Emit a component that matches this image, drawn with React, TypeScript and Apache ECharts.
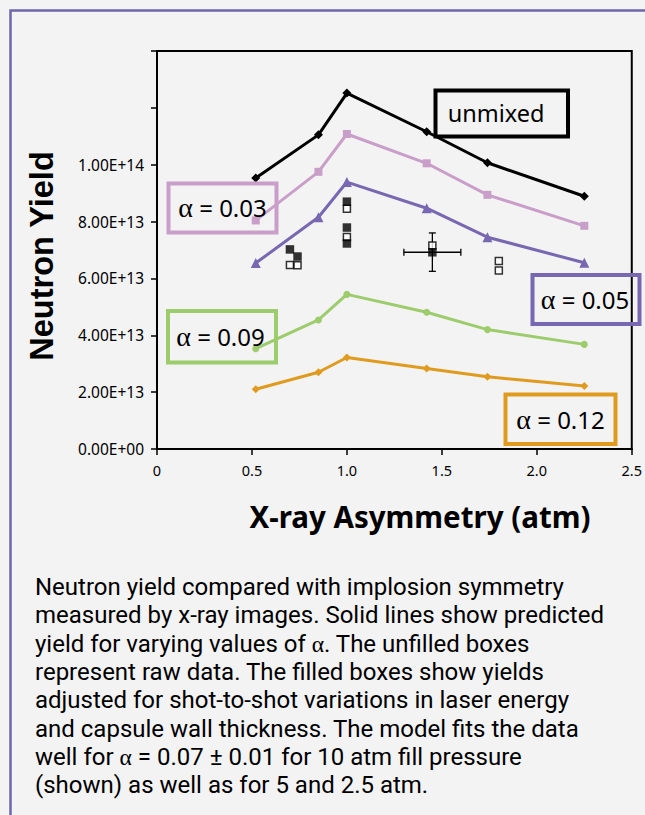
import React, { useEffect, useRef } from 'react';
import * as echarts from 'echarts';

// ---------- data ----------
const xValues = [0.52, 0.85, 1.0, 1.42, 1.74, 2.25];
const unmixed = [9.53e13, 1.105e14, 1.252e14, 1.116e14, 1.007e14, 8.89e13];
const alpha003 = [8.04e13, 9.75e13, 1.108e14, 1.005e14, 8.94e13, 7.85e13];
const alpha005 = [6.54e13, 8.15e13, 9.39e13, 8.47e13, 7.45e13, 6.55e13];
const alpha009 = [3.53e13, 4.54e13, 5.44e13, 4.81e13, 4.2e13, 3.68e13];
const alpha012 = [2.1e13, 2.7e13, 3.22e13, 2.83e13, 2.54e13, 2.22e13];

const filledX = [0.7, 0.74, 1.0, 1.0, 1.0, 1.45];
const filledY = [7.02e13, 6.77e13, 8.7e13, 7.79e13, 7.23e13, 6.92e13];
const openX = [0.7, 0.74, 1.0, 1.0, 1.45, 1.8, 1.8];
const openY = [6.47e13, 6.46e13, 8.45e13, 7.46e13, 7.16e13, 6.61e13, 6.28e13];

const errCenterX = [1.45];
const errCenterY = [6.92e13];
const errXLow = [1.3];
const errXHigh = [1.6];
const errYLow = [6.25e13];
const errYHigh = [7.6e13];

const yTickLabels = ['0.00E+00', '2.00E+13', '4.00E+13', '6.00E+13', '8.00E+13', '1.00E+14', '', ''];
const xTickLabels = ['0', '0.5', '1.0', '1.5', '2.0', '2.5'];

const seriesNames = ['unmixed', 'α = 0.03', 'α = 0.05', 'α = 0.09', 'α = 0.12'];

const captionLines = [
  'Neutron yield compared with implosion symmetry',
  'measured by x-ray images. Solid lines show predicted',
  'yield for varying values of α. The unfilled boxes',
  'represent raw data. The filled boxes show yields',
  'adjusted for shot-to-shot variations in laser energy',
  'and capsule wall thickness. The model fits the data',
  'well for α = 0.07 ± 0.01 for 10 atm fill pressure',
  '(shown) as well as for 5 and 2.5 atm.',
];

// ---------- style ----------
const SANS = '"Noto Sans", "Open Sans", sans-serif';
const CAPTION = 'Roboto, "Noto Sans", sans-serif';
const SERIF = '"Liberation Serif", "DejaVu Serif", serif';
const BLACK = '#000000';
const PINK = '#c99ec9';
const PURPLE = '#7867b1';
const GREEN = '#9ccc6b';
const ORANGE = '#e09b1f';
const FRAME = '#6c66aa';

const pairs = (xs: number[], ys: number[]) => xs.map((x, i) => [x, ys[i]]);
const richify = (s: string) => s.replace(/α/g, '{g|α}');

function lineSeries(name: string, ys: number[], color: string, symbol: string, size: number) {
  return {
    name,
    type: 'line',
    data: pairs(xValues, ys),
    symbol,
    symbolSize: size,
    showSymbol: true,
    lineStyle: { color, width: 3 },
    itemStyle: { color, borderWidth: 0 },
    z: 3,
  };
}

function labelBox(text: string, color: string, rx: number, ry: number, rw: number, rh: number, tx: number, ty: number, fs: number) {
  return {
    type: 'group',
    children: [
      {
        type: 'rect',
        shape: { x: rx, y: ry, width: rw, height: rh },
        style: { fill: 'none', stroke: color, lineWidth: 4 },
        z: 10,
      },
      {
        type: 'text',
        x: tx,
        y: ty,
        style: {
          text: richify(text),
          fill: '#000',
          fontFamily: SANS,
          fontSize: fs,
          lineHeight: 30,
          align: 'center',
          verticalAlign: 'middle',
          rich: { g: { fontFamily: SERIF, fontSize: fs + 4, lineHeight: 30, fill: '#000' } },
        },
        z: 10,
      },
    ],
  };
}

export default function App() {
  const ref = useRef<HTMLDivElement>(null);

  useEffect(() => {
    if (!ref.current) return;
    const chart = echarts.init(ref.current, null, { renderer: 'svg' });

    const errData = errCenterX.map((x, i) => [x, errCenterY[i], errXLow[i], errXHigh[i], errYLow[i], errYHigh[i]]);

    const option: any = {
      animation: false,
      backgroundColor: '#f3f3f4',
      grid: {
        left: 157,
        right: 10,
        top: 51,
        bottom: 366,
        show: true,
        borderColor: '#000',
        borderWidth: 2,
        backgroundColor: 'transparent',
      },
      xAxis: {
        type: 'value',
        min: 0,
        max: 2.5,
        interval: 0.5,
        axisLine: { show: true, onZero: false, lineStyle: { color: '#000', width: 2 } },
        axisTick: { show: true, length: 6, lineStyle: { color: '#000', width: 1.5 } },
        axisLabel: {
          color: '#000',
          fontFamily: SANS,
          fontSize: 14.5,
          margin: 13,
          formatter: (v: number) => xTickLabels[Math.round(v / 0.5)] ?? '',
        },
        splitLine: { show: false },
      },
      yAxis: {
        type: 'value',
        min: 0,
        max: 1.4e14,
        interval: 2e13,
        axisLine: { show: true, onZero: false, lineStyle: { color: '#000', width: 2 } },
        axisTick: { show: true, length: 6, lineStyle: { color: '#000', width: 1.5 } },
        axisLabel: {
          color: '#000',
          fontFamily: SANS,
          fontSize: 15.5,
          margin: 13,
          formatter: (v: number) => yTickLabels[Math.round(v / 2e13)] ?? '',
        },
        splitLine: { show: false },
      },
      series: [
        lineSeries(seriesNames[0], unmixed, BLACK, 'diamond', 9),
        lineSeries(seriesNames[1], alpha003, PINK, 'rect', 8),
        lineSeries(seriesNames[2], alpha005, PURPLE, 'triangle', 10),
        lineSeries(seriesNames[3], alpha009, GREEN, 'circle', 7),
        lineSeries(seriesNames[4], alpha012, ORANGE, 'diamond', 8),
        {
          name: 'error',
          type: 'custom',
          data: errData,
          z: 4,
          renderItem: (params: any, api: any) => {
            const l = api.coord([api.value(2), api.value(1)]);
            const r = api.coord([api.value(3), api.value(1)]);
            const b = api.coord([api.value(0), api.value(4)]);
            const t = api.coord([api.value(0), api.value(5)]);
            const st = { stroke: '#000', lineWidth: 1.3 };
            const cap = 3.5;
            return {
              type: 'group',
              children: [
                { type: 'line', shape: { x1: l[0], y1: l[1], x2: r[0], y2: r[1] }, style: st },
                { type: 'line', shape: { x1: b[0], y1: b[1], x2: t[0], y2: t[1] }, style: st },
                { type: 'line', shape: { x1: l[0], y1: l[1] - cap, x2: l[0], y2: l[1] + cap }, style: st },
                { type: 'line', shape: { x1: r[0], y1: r[1] - cap, x2: r[0], y2: r[1] + cap }, style: st },
                { type: 'line', shape: { x1: t[0] - cap, y1: t[1], x2: t[0] + cap, y2: t[1] }, style: st },
                { type: 'line', shape: { x1: b[0] - cap, y1: b[1], x2: b[0] + cap, y2: b[1] }, style: st },
              ],
            };
          },
        },
        {
          name: 'raw data',
          type: 'scatter',
          data: pairs(openX, openY),
          symbol: 'rect',
          symbolSize: 7,
          itemStyle: { color: '#ffffff', borderColor: '#000', borderWidth: 1.5 },
          z: 5,
        },
        {
          name: 'adjusted data',
          type: 'scatter',
          data: pairs(filledX, filledY),
          symbol: 'rect',
          symbolSize: 8.5,
          itemStyle: { color: '#000' },
          z: 6,
        },
      ],
      graphic: [
        {
          type: 'polyline',
          shape: { points: [[10.5, 815], [10.5, 10.5], [645, 10.5]] },
          style: { fill: 'none', stroke: FRAME, lineWidth: 2.5 },
        },
        labelBox('unmixed', BLACK, 435.5, 90.5, 132.5, 46, 496, 113, 23.5),
        labelBox('α = 0.03', PINK, 168.5, 183.5, 108, 49, 222.5, 207, 24),
        labelBox('α = 0.05', PURPLE, 532.5, 275, 107, 49, 585, 299, 24),
        labelBox('α = 0.09', GREEN, 168, 311, 108, 51.5, 220.5, 336, 24),
        labelBox('α = 0.12', ORANGE, 505.5, 394.5, 110, 49.5, 560.5, 419, 24),
        {
          type: 'text',
          x: 42,
          y: 256,
          rotation: Math.PI / 2,
          style: {
            text: 'Neutron Yield',
            fill: '#000',
            fontFamily: '"Liberation Sans", Arial, sans-serif',
            fontWeight: 'bold',
            fontSize: 32.5,
            align: 'center',
            verticalAlign: 'middle',
          },
        },
        {
          type: 'text',
          x: 420,
          y: 516,
          style: {
            text: 'X-ray Asymmetry (atm)',
            fill: '#000',
            fontFamily: SANS,
            fontWeight: 'bold',
            fontSize: 29.5,
            align: 'center',
            verticalAlign: 'middle',
          },
        },
        ...captionLines.map((line, i) => ({
          type: 'text',
          x: 35,
          y: 587 + i * 28.33,
          style: {
            text: richify(line),
            fill: '#000',
            fontFamily: CAPTION,
            fontSize: 24,
            lineHeight: 27,
            align: 'left',
            verticalAlign: 'middle',
            rich: { g: { fontFamily: SERIF, fontSize: 23.5, lineHeight: 27, fill: '#000' } },
          },
        })),
      ],
    };

    chart.setOption(option);
    return () => {
      chart.dispose();
    };
  }, []);

  return (
    <div
      ref={ref}
      style={{ position: 'absolute', left: 0, top: 0, width: 645, height: 815 }}
    />
  );
}
